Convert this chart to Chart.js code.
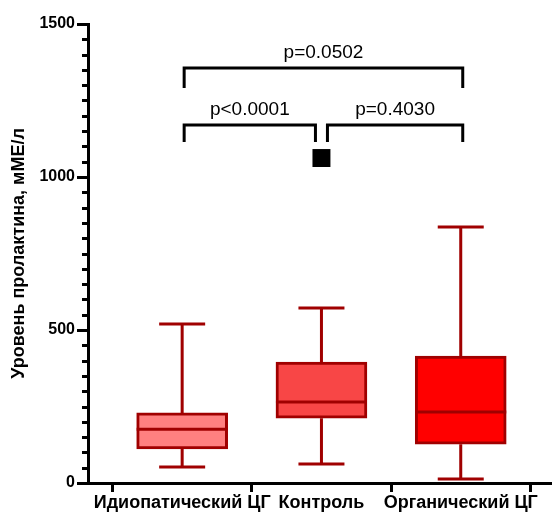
<!DOCTYPE html>
<html lang="ru">
<head>
<meta charset="UTF-8">
<title>Уровень пролактина</title>
<script src="https://cdn.jsdelivr.net/npm/chart.js"></script>
<style>
  html, body { margin: 0; padding: 0; background: #fff; }
  #wrap { position: relative; width: 552px; height: 515px; }
</style>
</head>
<body>
<div id="wrap"><canvas id="chart"></canvas></div>
<script>
// values
const groups = ['Идиопатический ЦГ', 'Контроль', 'Органический ЦГ'];
const whiskerLow = [52, 62, 13];
const q1 = [111, 212, 127];
const medians = [176, 265, 232];
const q3 = [229, 395, 415];
const whiskerHigh = [520, 572, 837];
const boxColors = ['#FF8080', '#F84646', '#FF0000'];
const outlierGroup = [1];
const outlierValue = [1062];
const pFrom = [0, 0, 1];
const pTo = [2, 1, 2];
const pLevel = [1356, 1170, 1170];
const pText = ['p=0.0502', 'p<0.0001', 'p=0.4030'];
const yTicks = [0, 500, 1000, 1500];

const FONT = "'Liberation Sans', Arial, sans-serif";
const DARK = '#A00000';
const BOX_W = 91;
const CAP_W = 46;

const extras = {
    id: 'extras',
    beforeDatasetsDraw(chart) {
        const { ctx, scales: { x, y } } = chart;
        ctx.save();
        ctx.strokeStyle = DARK;
        ctx.lineWidth = 3;
        groups.forEach((g, i) => {
            const cx = x.getPixelForValue(i);
            ctx.beginPath();
            ctx.moveTo(cx, y.getPixelForValue(q3[i]));
            ctx.lineTo(cx, y.getPixelForValue(whiskerHigh[i]));
            ctx.moveTo(cx, y.getPixelForValue(q1[i]));
            ctx.lineTo(cx, y.getPixelForValue(whiskerLow[i]));
            ctx.moveTo(cx - CAP_W / 2, y.getPixelForValue(whiskerHigh[i]));
            ctx.lineTo(cx + CAP_W / 2, y.getPixelForValue(whiskerHigh[i]));
            ctx.moveTo(cx - CAP_W / 2, y.getPixelForValue(whiskerLow[i]));
            ctx.lineTo(cx + CAP_W / 2, y.getPixelForValue(whiskerLow[i]));
            ctx.stroke();
        });
        ctx.restore();
    },
    afterDatasetsDraw(chart) {
        const { ctx, scales: { x, y } } = chart;
        ctx.save();
        // medians
        ctx.strokeStyle = DARK;
        ctx.lineWidth = 3;
        groups.forEach((g, i) => {
            const cx = x.getPixelForValue(i);
            const my = y.getPixelForValue(medians[i]);
            ctx.beginPath();
            ctx.moveTo(cx - BOX_W / 2, my);
            ctx.lineTo(cx + BOX_W / 2, my);
            ctx.stroke();
        });
        // minor ticks on y axis
        ctx.strokeStyle = '#000';
        const left = chart.chartArea.left;
        for (let v = y.min; v <= y.max; v += 50) {
            if (v % 500 === 0) continue;
            const py = Math.round(y.getPixelForValue(v)) + 0.5;
            ctx.beginPath();
            ctx.moveTo(left - 6, py);
            ctx.lineTo(left, py);
            ctx.stroke();
        }
        // significance brackets
        ctx.fillStyle = '#000';
        ctx.font = '19px ' + FONT;
        ctx.textAlign = 'center';
        ctx.textBaseline = 'alphabetic';
        pText.forEach((t, k) => {
            let x1 = x.getPixelForValue(pFrom[k]) + 2;
            let x2 = x.getPixelForValue(pTo[k]) + 2;
            if (pTo[k] === 1) x2 -= 8;
            if (pFrom[k] === 1) x1 += 4;
            const py = y.getPixelForValue(pLevel[k]);
            const leg = k === 0 ? 20 : 17;
            ctx.beginPath();
            ctx.moveTo(x1, py + leg);
            ctx.lineTo(x1, py);
            ctx.lineTo(x2, py);
            ctx.lineTo(x2, py + leg);
            ctx.stroke();
            ctx.fillText(t, (x1 + x2) / 2, py - 10);
        });
        ctx.restore();
    }
};

new Chart(document.getElementById('chart'), {
    type: 'bar',
    data: {
        datasets: [
            {
                type: 'bar',
                data: groups.map((g, i) => ({ x: i, y: [q1[i], q3[i]] })),
                backgroundColor: boxColors,
                borderColor: DARK,
                borderWidth: 3,
                borderSkipped: false,
                barThickness: BOX_W
            },
            {
                type: 'scatter',
                data: outlierGroup.map((g, i) => ({ x: g, y: outlierValue[i] })),
                pointStyle: 'rect',
                pointRadius: 12.7,
                backgroundColor: '#000',
                borderColor: '#000',
                borderWidth: 0
            }
        ]
    },
    options: {
        responsive: true,
        maintainAspectRatio: false,
        animation: false,
        layout: { autoPadding: false, padding: { top: 24, right: 1, left: 0, bottom: 0 } },
        plugins: { legend: { display: false }, tooltip: { enabled: false } },
        scales: {
            x: {
                type: 'linear',
                offset: false,
                min: -0.676,
                max: 2.648,
                afterBuildTicks: s => { s.ticks = groups.map((g, i) => ({ value: i })); },
                afterFit: s => { s.height = 32; s.paddingLeft = 0; s.paddingRight = 0; },
                ticks: {
                    autoSkip: false,
                    maxRotation: 0,
                    padding: 0,
                    color: '#000',
                    font: { family: FONT, size: 18, weight: 'bold' },
                    callback: v => groups[v]
                },
                grid: { drawOnChartArea: false, tickLength: 9, tickWidth: 3, tickColor: '#000' },
                border: { display: true, width: 3, color: '#000' }
            },
            y: {
                min: 0,
                max: 1500,
                afterBuildTicks: s => { s.ticks = yTicks.map(v => ({ value: v })); },
                afterFit: s => { s.width = 88; s.paddingTop = 0; s.paddingBottom = 0; },
                ticks: {
                    padding: 2,
                    color: '#000',
                    font: { family: FONT, size: 16, weight: 'bold' },
                    callback: v => String(v)
                },
                grid: { drawOnChartArea: false, tickLength: 11, tickWidth: 3, tickColor: '#000' },
                border: { display: true, width: 3, color: '#000' },
                title: {
                    display: true,
                    text: 'Уровень пролактина, мМЕ/л',
                    color: '#000',
                    padding: { top: 8, bottom: 0 },
                    font: { family: FONT, size: 18, weight: 'bold' }
                }
            }
        }
    },
    plugins: [extras]
});
</script>
</body>
</html>
